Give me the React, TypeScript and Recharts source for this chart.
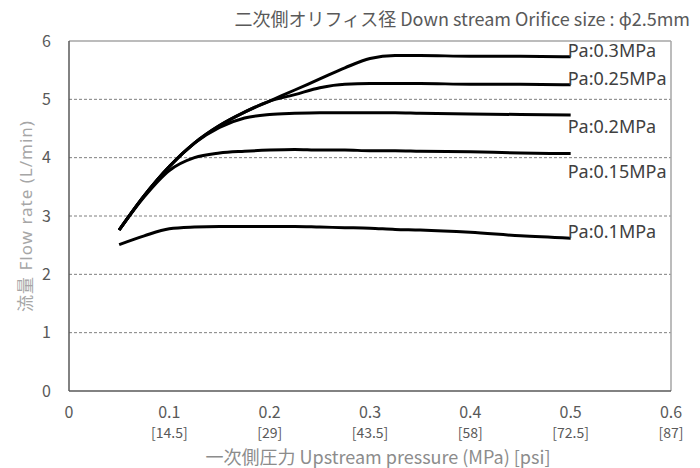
import React from "react";
import {
    LineChart,
    Line,
    XAxis,
    YAxis,
    CartesianGrid,
    ReferenceLine,
    LabelList,
    Label
} from "recharts";

// upstream pressure (MPa)
const pressure = [0.05, 0.075, 0.1, 0.125, 0.15, 0.175, 0.2, 0.225, 0.25, 0.275, 0.3, 0.325, 0.35, 0.4, 0.45, 0.5];

// flow rate (L/min) for each set pressure
const flow03 = [2.76, 3.35, 3.85, 4.25, 4.55, 4.78, 4.97, 5.16, 5.35, 5.54, 5.7, 5.75, 5.75, 5.74, 5.74, 5.73];
const flow025 = [2.76, 3.35, 3.85, 4.25, 4.55, 4.78, 4.97, 5.08, 5.2, 5.26, 5.27, 5.27, 5.27, 5.26, 5.26, 5.25];
const flow02 = [2.76, 3.35, 3.85, 4.25, 4.52, 4.68, 4.74, 4.76, 4.77, 4.77, 4.77, 4.77, 4.76, 4.75, 4.74, 4.73];
const flow015 = [2.76, 3.33, 3.78, 4.0, 4.08, 4.11, 4.13, 4.14, 4.13, 4.13, 4.12, 4.12, 4.11, 4.1, 4.08, 4.07];
const flow01 = [2.51, 2.66, 2.78, 2.81, 2.82, 2.82, 2.82, 2.82, 2.81, 2.8, 2.79, 2.77, 2.76, 2.72, 2.66, 2.62];

const seriesKeys = ["p03", "p025", "p02", "p015", "p01"];
const seriesNames = ["Pa:0.3MPa", "Pa:0.25MPa", "Pa:0.2MPa", "Pa:0.15MPa", "Pa:0.1MPa"];
const seriesValues = [flow03, flow025, flow02, flow015, flow01];

const xTicks = [0, 0.1, 0.2, 0.3, 0.4, 0.5, 0.6];
const psiLabels = ["", "[14.5]", "[29]", "[43.5]", "[58]", "[72.5]", "[87]"];
const yTicks = [0, 1, 2, 3, 4, 5, 6];

const data = pressure.map((p, i) => {
    const row: any = { p };
    seriesKeys.forEach((k, s) => {
        row[k] = seriesValues[s][i];
    });
    return row;
});

// vertical shift of each end label from the line end
const labelDy = [-7, -7, 11, 17, -7];

const FONT = "'Noto Sans CJK JP', 'Noto Sans', sans-serif";
const WIDE = "'Noto Sans', 'Noto Sans CJK JP', sans-serif";

const XTick = (props: any) => {
    const { x, y, payload, index } = props;
    const psi = psiLabels[index];
    return (
        <g>
            <text x={x} y={y + 19} textAnchor="middle" fontSize={16} fill="#595959">
                {payload.value}
            </text>
            {psi ? (
                <text x={x} y={y + 39} textAnchor="middle" fontSize={14} fill="#595959">
                    {psi}
                </text>
            ) : null}
        </g>
    );
};

const endLabel = (s: number) => (p: any) => {
    if (p.index !== pressure.length - 1) return null;
    return (
        <text
            x={p.x - 3}
            y={p.y + labelDy[s]}
            fontSize={18}
            style={{ fontFamily: WIDE }}
            fill="#404040"
            dominantBaseline="central"
        >
            {seriesNames[s]}
        </text>
    );
};

const App = () => {
    return (
        <div style={{ position: "absolute", left: 0, top: 0, width: 700, height: 468, fontFamily: FONT, background: "#fff" }}>
            <div
                style={{
                    position: "absolute",
                    right: 10,
                    top: 6,
                    fontSize: 18,
                    color: "#595959",
                    whiteSpace: "nowrap",
                    lineHeight: "24px"
                }}
            >
                二次側オリフィス径 Down stream Orifice size : ϕ2.5mm
            </div>
            <LineChart
                width={700}
                height={468}
                data={data}
                margin={{ top: 41, right: 29, bottom: 0, left: 0 }}
            >
                <CartesianGrid
                    vertical={false}
                    horizontalValues={[1, 2, 3, 4, 5]}
                    stroke="#7f7f7f"
                    strokeDasharray="3 2"
                />
                <ReferenceLine y={6} stroke="#a6a6a6" strokeWidth={1.5} />
                <ReferenceLine x={0.6} stroke="#a6a6a6" strokeWidth={1.5} />
                <XAxis
                    dataKey="p"
                    type="number"
                    domain={[0, 0.6]}
                    ticks={xTicks}
                    height={77}
                    tickLine={false}
                    axisLine={{ stroke: "#595959", strokeWidth: 1.5 }}
                    tick={<XTick />}
                    interval={0}
                >
                    <Label
                        content={(p: any) => {
                            const vb = p.viewBox;
                            return (
                                <text
                                    x={vb.x + vb.width / 2 + 8}
                                    y={vb.y + 73}
                                    textAnchor="middle"
                                    fontSize={18}
                                    fill="#8c8c8c"
                                >
                                    一次側圧力 Upstream pressure (MPa) [psi]
                                </text>
                            );
                        }}
                    />
                </XAxis>
                <YAxis
                    type="number"
                    domain={[0, 6]}
                    ticks={yTicks}
                    width={69}
                    tickLine={false}
                    tickMargin={12}
                    axisLine={{ stroke: "#595959", strokeWidth: 1.5 }}
                    tick={{ fill: "#595959", fontSize: 16 }}
                    interval={0}
                >
                    <Label
                        content={(p: any) => {
                            const vb = p.viewBox;
                            const cy = vb.y + vb.height / 2;
                            return (
                                <text
                                    x={25}
                                    y={cy}
                                    transform={`rotate(-90, 25, ${cy})`}
                                    textAnchor="middle"
                                    dominantBaseline="central"
                                    fontSize={17}
                                    letterSpacing={1}
                                    style={{ fontFamily: WIDE }}
                                    fill="#a6a6a6"
                                >
                                    流量 Flow rate (L/min)
                                </text>
                            );
                        }}
                    />
                </YAxis>
                {seriesKeys.map((k, s) => (
                    <Line
                        key={k}
                        dataKey={k}
                        type="monotone"
                        stroke="#000"
                        strokeWidth={3}
                        dot={false}
                        isAnimationActive={false}
                    >
                        <LabelList dataKey={k} content={endLabel(s)} />
                    </Line>
                ))}
            </LineChart>
        </div>
    );
};

export default App;
